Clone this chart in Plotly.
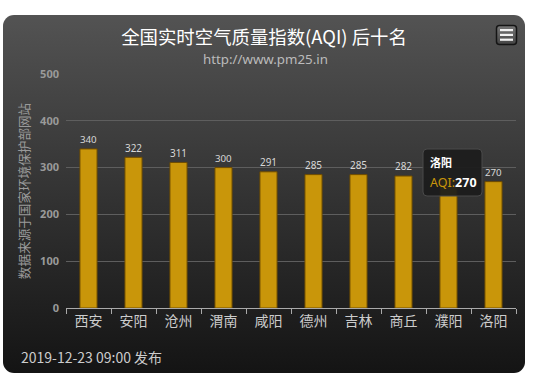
import base64
import plotly.graph_objects as go

cities = ["西安", "安阳", "沧州", "渭南", "咸阳", "德州", "吉林", "商丘", "濮阳", "洛阳"]
aqi = [340, 322, 311, 300, 291, 285, 285, 282, 276, 270]
y_ticks = [0, 100, 200, 300, 400, 500]
hovered = "洛阳"      # city whose tooltip is shown
covered = "濮阳"      # value label hidden behind the tooltip in the reference

W, H = 550, 380
L, R, T, B = 66, 34, 74, 72
PW, PH = W - L - R, H - T - B

def px(x):
    return (x - L) / PW

def py(y):
    return (H - B - y) / PH

svg = f"""<svg xmlns='http://www.w3.org/2000/svg' width='{W}' height='{H}' viewBox='0 0 {W} {H}'>
<defs><linearGradient id='g' x1='0' y1='0' x2='0' y2='1'>
<stop offset='0' stop-color='#535353'/><stop offset='0.5' stop-color='#333333'/><stop offset='1' stop-color='#141414'/>
</linearGradient>
<linearGradient id='m' x1='0' y1='0' x2='0' y2='1'>
<stop offset='0' stop-color='#777'/><stop offset='1' stop-color='#444'/></linearGradient></defs>
<rect x='0' y='0' width='{W}' height='{H}' fill='#ffffff'/>
<rect x='3' y='15' width='522' height='358' rx='11' ry='11' fill='url(#g)'/>
<rect x='496.5' y='25.5' width='20' height='19' rx='3' ry='3' fill='url(#m)' stroke='#151515' stroke-width='1.5'/>
<rect x='500' y='29' width='13' height='2.2' fill='#f2f2f2'/>
<rect x='500' y='33.8' width='13' height='2.2' fill='#f2f2f2'/>
<rect x='500' y='38.6' width='13' height='2.2' fill='#f2f2f2'/>
</svg>"""
src = "data:image/svg+xml;base64," + base64.b64encode(svg.encode()).decode()

labels = ["" if c == covered else str(v) for c, v in zip(cities, aqi)]
hv = aqi[cities.index(hovered)]

fig = go.Figure()
fig.add_trace(go.Bar(
    x=cities, y=aqi, width=0.38,
    marker=dict(color="#C9960A", line=dict(color="#6e4c00", width=1)),
    text=labels, textposition="outside", cliponaxis=False,
    textfont=dict(color="#d8d8d8", size=11.5, family="Noto Sans"),
    hoverinfo="skip",
))

font_cjk = "Noto Sans CJK SC"

fig.update_layout(
    width=W, height=H,
    margin=dict(l=L, r=R, t=T, b=B),
    paper_bgcolor="#ffffff", plot_bgcolor="rgba(0,0,0,0)",
    showlegend=False, bargap=0.6,
    font=dict(family=font_cjk),
    images=[dict(source=src, xref="paper", yref="paper",
                 x=px(0), y=py(0), sizex=W / PW, sizey=H / PH,
                 xanchor="left", yanchor="top", sizing="stretch", layer="below")],
    xaxis=dict(
        type="category", tickson="boundaries", ticks="outside", ticklen=5,
        tickcolor="#aaaaaa", showline=True, linecolor="#aaaaaa", linewidth=1,
        showgrid=False, tickfont=dict(color="#cccccc", size=14, family=font_cjk),
        fixedrange=True,
    ),
    yaxis=dict(
        range=[0, 500], tickvals=y_ticks, showgrid=True, gridcolor="#5e5e5e",
        gridwidth=1, zeroline=False, showline=False,
        tickfont=dict(color="#9a9a9a", size=11, family="Noto Sans", weight="bold"),
        ticklabelstandoff=6,
        title=dict(text="数据来源于国家环境保护部网站",
                   font=dict(color="#9a9a9a", size=12.6, family=font_cjk), standoff=7),
        fixedrange=True,
    ),
    title=dict(text="全国实时空气质量指数(AQI) 后十名", xref="container", x=264 / W,
               xanchor="center", yref="container", y=1 - 38 / H, yanchor="middle",
               font=dict(color="#ffffff", size=18.4, family=font_cjk)),
)

# tooltip box
x0, x1, y0, y1, r = 423, 482, 149, 196, 4
path = (f"M {px(x0 + r)} {py(y0)} L {px(x1 - r)} {py(y0)} "
        f"Q {px(x1)} {py(y0)} {px(x1)} {py(y0 + r)} L {px(x1)} {py(y1 - r)} "
        f"Q {px(x1)} {py(y1)} {px(x1 - r)} {py(y1)} L {px(x0 + r)} {py(y1)} "
        f"Q {px(x0)} {py(y1)} {px(x0)} {py(y1 - r)} L {px(x0)} {py(y0 + r)} "
        f"Q {px(x0)} {py(y0)} {px(x0 + r)} {py(y0)} Z")
fig.add_shape(type="path", path=path, xref="paper", yref="paper",
              fillcolor="rgba(28,28,28,0.93)", line=dict(color="#4a4a4a", width=1),
              layer="above")

annotations = [
    dict(text="http://www.pm25.in", x=px(265), y=py(59), xref="paper", yref="paper",
         yanchor="middle", showarrow=False,
         font=dict(color="#bbbbbb", size=13.3, family="Noto Sans")),
    dict(text="2019-12-23 09:00 发布", x=px(19), y=py(357), xref="paper", yref="paper",
         xanchor="left", yanchor="middle", showarrow=False,
         font=dict(color="#cccccc", size=14, family=font_cjk)),
    dict(text="<b>" + hovered + "</b>",
         x=px(429), y=py(162), xref="paper", yref="paper",
         xanchor="left", yanchor="middle", showarrow=False, borderpad=0,
         font=dict(color="#ffffff", size=11, family=font_cjk)),
    dict(text="<span style='color:#C9960A'>AQI:</span><b>" + str(hv) + "</b>",
         x=px(429), y=py(182), xref="paper", yref="paper",
         xanchor="left", yanchor="middle", showarrow=False, borderpad=0,
         font=dict(color="#ffffff", size=12.5, family="Noto Sans")),
]
fig.update_layout(annotations=annotations)

fig.write_html("out.html", config={"displayModeBar": False},
               post_script="document.body.style.margin='0';")
